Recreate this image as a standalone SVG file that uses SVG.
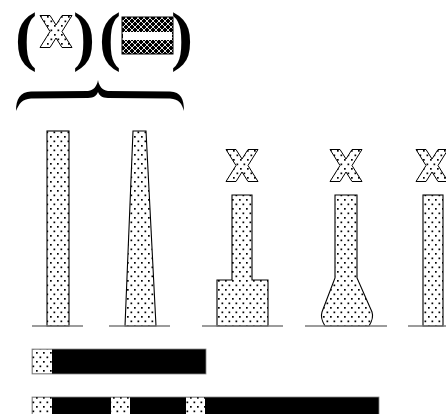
<svg xmlns="http://www.w3.org/2000/svg" width="446" height="414" viewBox="0 0 446 414">
<style>
.col{fill:url(#dots);stroke:#000;stroke-width:1.1}
.ground{stroke:#7a7a7a;stroke-width:1.5;fill:none}
.paren{font-family:"Liberation Serif","Times New Roman",serif;font-size:66px;font-weight:bold;fill:#000}
</style>
<defs>
<pattern id="dots" width="7" height="9" patternUnits="userSpaceOnUse">
<rect width="7" height="9" fill="#fff"/>
<rect x="1" y="1" width="1.7" height="1.7" fill="#000"/>
<rect x="4.5" y="5.5" width="1.7" height="1.7" fill="#000"/>
</pattern>
<pattern id="hatch" width="6" height="6" patternUnits="userSpaceOnUse">
<rect width="6" height="6" fill="#000"/>
<path d="M0,0 L6,6 M6,0 L0,6" stroke="#fff" stroke-width="0.9"/>
</pattern>
<symbol id="xshape" viewBox="0 0 34 33" width="34" height="33">
<polygon points="1,0.5 11,0.5 17,10 23,0.5 33,0.5 23,16.5 33,32.5 23,32.5 17,23 11,32.5 1,32.5 11,16.5" fill="url(#dots)" stroke="#000" stroke-width="1"/>
</symbol>
</defs>

<g id="legend">
<text class="paren" x="15" y="58">(</text>
<use href="#xshape" x="39" y="15" width="34" height="33"/>
<text class="paren" x="73" y="58">)</text>
<text class="paren" x="99" y="58">(</text>
<rect x="122" y="17" width="51" height="37" fill="url(#hatch)" stroke="#000" stroke-width="1"/>
<rect x="123" y="32" width="49" height="8" fill="#fff"/>
<text class="paren" x="171" y="58">)</text>
<path id="brace" d="M16,111 C16,99 20,92 31,91.5 L88,91 C94,90 97,86 98,80 C99,86 102,90 108,91 L170,91.5 C181,92 184,99 184,111 C182,104 179,99 170,98.5 L108,98 C102,98 99,95 98,92 C97,95 94,98 88,98 L31,98.5 C22,99 19,104 16,111 Z" fill="#000"/>
</g>

<g id="column1">
<rect class="col" x="47" y="131" width="22" height="195"/>
<line class="ground" x1="32" y1="326" x2="83" y2="326"/>
</g>

<g id="column2">
<polygon class="col" points="133,131 146,131 156,326 125,326"/>
<line class="ground" x1="109" y1="326" x2="170" y2="326"/>
</g>

<g id="column3">
<use href="#xshape" x="225" y="149" width="34" height="33"/>
<path class="col" d="M232,195 H252 V280 H268 V326 H217 V280 H232 Z"/>
<line class="ground" x1="202" y1="326" x2="283" y2="326"/>
</g>

<g id="column4">
<use href="#xshape" x="329" y="149" width="34" height="33"/>
<path class="col" d="M335,195 H357 V278 L372,312 Q374,318 369,326 H325 Q320,318 322,312 L335,278 Z"/>
<line class="ground" x1="305" y1="326" x2="387" y2="326"/>
</g>

<g id="column5">
<use href="#xshape" x="415" y="149" width="34" height="33"/>
<rect class="col" x="423" y="195" width="20" height="131"/>
<line class="ground" x1="408" y1="326" x2="446" y2="326"/>
</g>

<g id="bar1">
<rect x="32" y="349" width="174" height="25" fill="#000" stroke="#888" stroke-width="0.8"/>
<rect x="32.5" y="349.5" width="19.5" height="24" fill="url(#dots)"/>
</g>

<g id="bar2">
<rect x="32" y="397" width="347" height="20" fill="#000" stroke="#888" stroke-width="0.8"/>
<rect x="32.5" y="397.5" width="19.5" height="17" fill="url(#dots)"/>
<rect x="111" y="397.5" width="19" height="17" fill="url(#dots)"/>
<rect x="186" y="397.5" width="19" height="17" fill="url(#dots)"/>
</g>
</svg>
